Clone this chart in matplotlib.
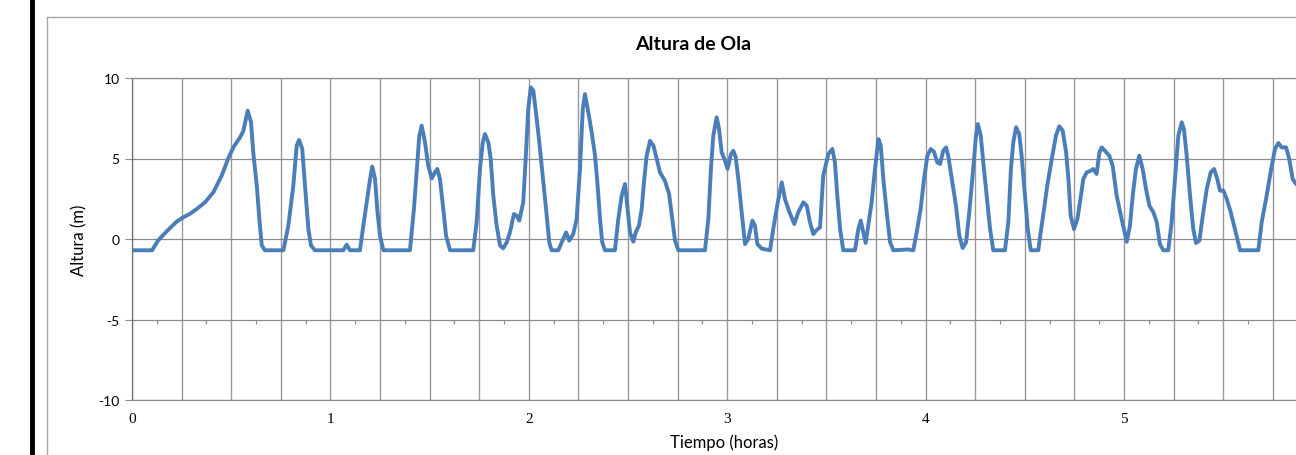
import numpy as np
import matplotlib
matplotlib.use("Agg")
import matplotlib.pyplot as plt
from matplotlib.lines import Line2D

plt.rcParams['font.family'] = ['Lato', 'DejaVu Sans']
plt.rcParams['axes.unicode_minus'] = False

# serie: tiempo (horas) y altura de ola (m)
tiempo = [0.000, 0.101, 0.131, 0.175, 0.225, 0.259, 0.290, 0.326, 0.368, 0.410,
          0.452, 0.485, 0.511, 0.544, 0.561, 0.583, 0.600, 0.611, 0.629, 0.642,
          0.654, 0.670, 0.763, 0.788, 0.813, 0.830, 0.842, 0.858, 0.872, 0.889,
          0.902, 0.922, 1.065, 1.082, 1.099, 1.149, 1.166, 1.183, 1.200, 1.211,
          1.225, 1.236, 1.250, 1.267, 1.401, 1.421, 1.438, 1.448, 1.460, 1.477,
          1.493, 1.511, 1.527, 1.539, 1.552, 1.569, 1.583, 1.603, 1.720, 1.737,
          1.754, 1.768, 1.779, 1.796, 1.808, 1.821, 1.838, 1.855, 1.871, 1.889,
          1.905, 1.925, 1.939, 1.952, 1.972, 1.986, 1.997, 2.010, 2.023, 2.036,
          2.053, 2.070, 2.087, 2.103, 2.115, 2.149, 2.166, 2.188, 2.204, 2.224,
          2.241, 2.258, 2.272, 2.283, 2.300, 2.317, 2.334, 2.347, 2.359, 2.370,
          2.384, 2.434, 2.451, 2.468, 2.485, 2.498, 2.510, 2.527, 2.539, 2.555,
          2.569, 2.582, 2.594, 2.611, 2.628, 2.645, 2.661, 2.686, 2.707, 2.723,
          2.737, 2.754, 2.888, 2.905, 2.918, 2.930, 2.947, 2.959, 2.972, 2.989,
          3.002, 3.019, 3.031, 3.043, 3.056, 3.073, 3.090, 3.106, 3.127, 3.140,
          3.152, 3.174, 3.216, 3.232, 3.255, 3.275, 3.291, 3.311, 3.338, 3.358,
          3.384, 3.401, 3.417, 3.434, 3.451, 3.468, 3.484, 3.510, 3.530, 3.543,
          3.555, 3.569, 3.585, 3.644, 3.661, 3.673, 3.686, 3.698, 3.711, 3.728,
          3.745, 3.762, 3.774, 3.787, 3.804, 3.821, 3.837, 3.911, 3.938, 3.958,
          3.975, 3.992, 4.009, 4.026, 4.042, 4.059, 4.073, 4.089, 4.103, 4.114,
          4.132, 4.153, 4.170, 4.187, 4.204, 4.220, 4.240, 4.254, 4.263, 4.278,
          4.294, 4.311, 4.325, 4.341, 4.400, 4.417, 4.430, 4.442, 4.456, 4.472,
          4.484, 4.501, 4.515, 4.530, 4.568, 4.580, 4.597, 4.613, 4.636, 4.657,
          4.674, 4.691, 4.708, 4.720, 4.731, 4.748, 4.765, 4.778, 4.795, 4.812,
          4.832, 4.845, 4.862, 4.876, 4.888, 4.904, 4.926, 4.943, 4.963, 4.988,
          5.014, 5.030, 5.044, 5.060, 5.077, 5.094, 5.111, 5.128, 5.148, 5.165,
          5.181, 5.198, 5.223, 5.240, 5.257, 5.274, 5.291, 5.302, 5.316, 5.333,
          5.349, 5.363, 5.380, 5.397, 5.417, 5.437, 5.454, 5.470, 5.484, 5.501,
          5.518, 5.538, 5.559, 5.585, 5.677, 5.694, 5.719, 5.739, 5.761, 5.778,
          5.795, 5.817, 5.833, 5.850, 5.867, 5.880]

altura = [-0.70, -0.70, -0.10, 0.48, 1.08, 1.35, 1.55, 1.86, 2.28, 2.90,
          3.93, 5.00, 5.70, 6.30, 6.70, 7.97, 7.25, 5.40, 3.30, 1.24,
          -0.40, -0.70, -0.70, 0.83, 3.30, 5.80, 6.15, 5.60, 3.30, 0.62,
          -0.40, -0.70, -0.70, -0.35, -0.70, -0.70, 0.83, 2.28, 3.73, 4.50,
          3.73, 1.86, 0.20, -0.70, -0.70, 1.86, 4.76, 6.40, 7.04, 6.00,
          4.55, 3.77, 4.14, 4.35, 3.73, 1.86, 0.20, -0.70, -0.70, 1.04,
          4.35, 6.00, 6.52, 6.00, 4.97, 2.69, 0.83, -0.40, -0.58, -0.20,
          0.41, 1.55, 1.45, 1.14, 2.28, 5.38, 8.07, 9.42, 9.20, 7.87,
          6.00, 3.93, 1.86, -0.20, -0.70, -0.70, -0.20, 0.41, -0.10, 0.31,
          1.24, 4.35, 8.07, 9.00, 7.87, 6.63, 5.17, 3.30, 1.24, -0.20,
          -0.70, -0.70, 1.24, 2.69, 3.42, 1.86, 0.41, -0.17, 0.41, 0.83,
          1.86, 3.73, 5.17, 6.10, 5.80, 4.97, 4.14, 3.62, 2.80, 1.24,
          -0.10, -0.70, -0.70, 1.24, 4.35, 6.42, 7.56, 6.83, 5.38, 4.86,
          4.35, 5.28, 5.48, 5.07, 3.73, 1.66, -0.31, 0.00, 1.14, 0.83,
          -0.31, -0.60, -0.70, 0.62, 2.28, 3.52, 2.48, 1.76, 0.93, 1.66,
          2.28, 2.07, 1.04, 0.31, 0.56, 0.73, 3.93, 5.28, 5.59, 4.76,
          2.69, 0.62, -0.70, -0.70, 0.62, 1.14, 0.41, -0.25, 0.83, 2.28,
          4.35, 6.21, 5.80, 3.73, 1.66, -0.20, -0.70, -0.65, -0.70, 0.62,
          1.86, 3.73, 5.17, 5.59, 5.42, 4.76, 4.66, 5.48, 5.69, 5.17,
          3.73, 2.07, 0.20, -0.56, -0.20, 1.66, 4.35, 6.42, 7.14, 6.42,
          4.35, 2.28, 0.62, -0.70, -0.70, 1.04, 4.35, 6.00, 6.94, 6.52,
          5.17, 2.69, 0.62, -0.70, -0.70, 0.41, 1.86, 3.30, 4.97, 6.42,
          7.00, 6.73, 5.40, 3.70, 1.45, 0.62, 1.24, 2.28, 3.73, 4.14,
          4.24, 4.35, 4.04, 5.38, 5.69, 5.48, 5.17, 4.55, 2.69, 1.24,
          -0.17, 0.83, 2.69, 4.35, 5.17, 4.35, 3.10, 2.07, 1.66, 1.04,
          -0.31, -0.70, -0.70, 1.04, 3.73, 6.42, 7.25, 6.83, 5.17, 2.69,
          0.62, -0.25, -0.10, 1.45, 3.10, 4.14, 4.35, 3.73, 3.00, 3.00,
          2.48, 1.66, 0.62, -0.70, -0.70, 1.04, 2.69, 4.14, 5.59, 5.96,
          5.69, 5.69, 4.97, 3.73, 3.42, 3.30]

horas = [0, 1, 2, 3, 4, 5]
niveles = [-10, -5, 0, 5, 10]

W, H = 1296, 456
fig = plt.figure(figsize=(W / 100, H / 100), dpi=100)

# marco del grafico (recortado a la derecha y abajo)
gris_marco = '#a6a6a6'
fig.add_artist(Line2D([47 / W, 47 / W], [0, 1 - 18 / H], color=gris_marco, lw=1))
fig.add_artist(Line2D([47 / W, 1], [1 - 18 / H, 1 - 18 / H], color=gris_marco, lw=1))
fig.add_artist(Line2D([32 / W, 32 / W], [0, 1], color='black', lw=3.5))

# area de trazado: se sale de la figura por la derecha
px_hora = 198.4
ax = fig.add_axes([132 / W, 1 - 401 / H, 6 * px_hora / W, 322 / H])
gris = '#8c8c8c'
ax.set_xlim(0, 6)
ax.set_ylim(-10, 10)

ax.set_xticks(horas)
ax.set_xticks(np.arange(0, 6.01, 0.25), minor=True)
ax.set_yticks(niveles)
ax.grid(True, which='both', axis='x', color='#999999', lw=1.0)
ax.grid(True, which='major', axis='y', color=gris, lw=0.9)
ax.set_axisbelow(True)

for s in ax.spines.values():
    s.set_color(gris)
    s.set_linewidth(0.9)
ax.spines['left'].set_color('#707070')

ax.tick_params(axis='x', which='both', length=0, pad=9, labelsize=11)
ax.tick_params(axis='y', length=5, color=gris, pad=4, labelsize=10)
for lb in ax.get_xticklabels():
    lb.set_fontfamily('Liberation Serif')

# marcas pequenas colgando de la linea de -5
sec = ax.secondary_xaxis(0.25)
sec.set_xticks(np.arange(0.125, 6, 0.25))
sec.tick_params(length=3, color=gris, labelbottom=False, direction='out')
sec.set_xticklabels([])
sec.spines['bottom'].set_visible(False)

ax.plot(tiempo, altura, color='#4a7ebb', lw=2.8, solid_joinstyle='round')

ax.set_ylabel('Altura (m)', fontsize=12, labelpad=8)
fig.text(724 / W, 1 - 443 / H, 'Tiempo (horas)', ha='center', va='center', fontsize=12)
fig.text(693 / W, 1 - 45 / H, 'Altura de Ola', ha='center', va='center',
         fontsize=14, fontweight='bold')

fig.savefig('out.png', dpi=100)
